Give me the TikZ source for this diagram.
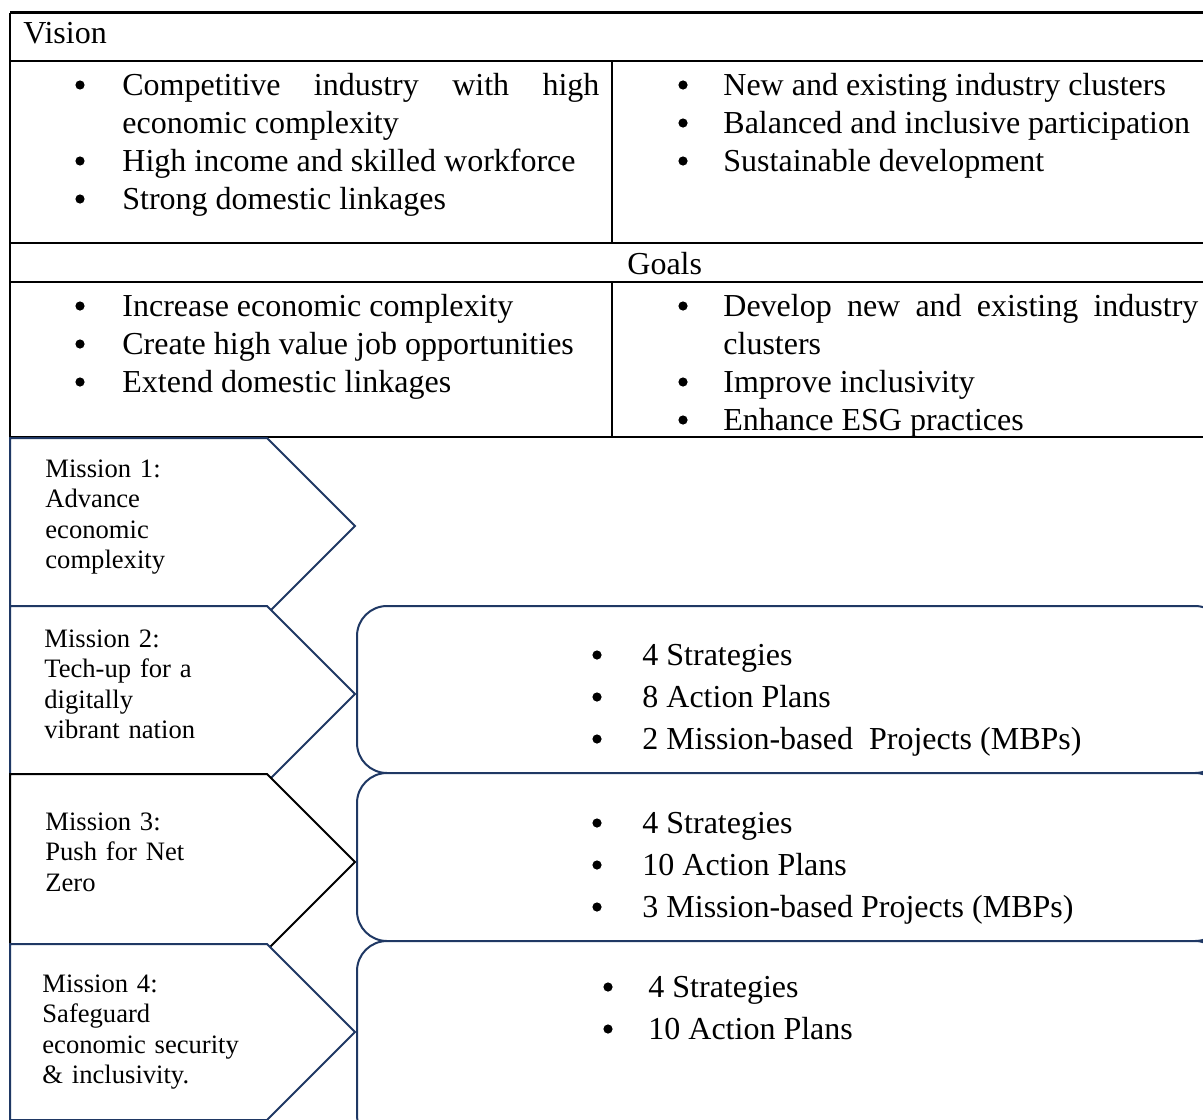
\documentclass[tikz,border=0pt]{standalone}
\usepackage{fontspec}
\setmainfont{Liberation Serif}
\usetikzlibrary{positioning}
\hyphenpenalty=10000
\exhyphenpenalty=10000

\begin{document}
\begin{tikzpicture}[x=0.5pt, y=-0.5pt,
  rule/.style={line width=1.25pt, black},
  celltext/.style={inner sep=0pt, anchor=base west, font=\fontsize{16}{19}\selectfont},
  itemtext/.style={celltext, text width=#1, align=justify},
  dot/.style={circle, fill=black, inner sep=0pt, minimum size=4.6pt, yshift=5pt},
  missiontext/.style={inner sep=0pt, anchor=base west, text width=120pt, align=left, font=\fontsize{13.3}{15.25}\selectfont},
  chevron/.style={draw=navy, line width=1pt, fill=white, line join=miter},
  resultbox/.style={draw=navy, line width=1pt, fill=white, rounded corners=15pt}]

% Colours
\definecolor{navy}{RGB}{31, 56, 100}

\useasboundingbox (0,0) rectangle (1203,1119);
\clip (0,0) rectangle (1203,1119);

% VISION / GOALS TABLE
\draw[rule] (10,12.5) -- (1215,12.5);
\draw[rule] (10,61) -- (1215,61);
\draw[rule] (10,243) -- (1215,243);
\draw[rule] (10,282) -- (1215,282);
\draw[rule] (10,437) -- (1215,437);
\draw[rule] (10,12.5) -- (10,437);
\draw[rule] (612,61) -- (612,243);
\draw[rule] (612,282) -- (612,437);

\node[celltext] (vision) at (23,43) {Vision};

% Vision, left cell
\node[dot] (vb1) at (80,95) {};
\node[itemtext=238.5pt] (v1) at (122,95) {Competitive industry with high economic complexity};
\node[dot] (vb2) at (80,171) {};
\node[celltext] (v2) at (122,171) {High income and skilled workforce};
\node[dot] (vb3) at (80,209) {};
\node[celltext] (v3) at (122,209) {Strong domestic linkages};

% Vision, right cell
\node[dot] (vb4) at (683,95) {};
\node[celltext] (v4) at (723,95) {New and existing industry clusters};
\node[dot] (vb5) at (683,133) {};
\node[celltext] (v5) at (723,133) {Balanced and inclusive participation};
\node[dot] (vb6) at (683,171) {};
\node[celltext] (v6) at (723,171) {Sustainable development};

\node[celltext] (goals) at (627,274) {Goals};

% Goals, left cell
\node[dot] (gb1) at (80,316) {};
\node[celltext] (g1) at (122,316) {Increase economic complexity};
\node[dot] (gb2) at (80,354) {};
\node[celltext] (g2) at (122,354) {Create high value job opportunities};
\node[dot] (gb3) at (80,392) {};
\node[celltext] (g3) at (122,392) {Extend domestic linkages};

% Goals, right cell
\node[dot] (gb4) at (683,316) {};
\node[itemtext=237.5pt] (g4) at (723,316) {Develop new and existing industry clusters};
\node[dot] (gb5) at (683,392) {};
\node[celltext] (g5) at (723,392) {Improve inclusivity};
\node[dot] (gb6) at (683,430) {};
\node[celltext] (g6) at (723,430) {Enhance ESG practices};

% MISSION CHEVRONS
\draw[chevron] (10,438) -- (267,438) -- (355,526) -- (267,614) -- (10,614) -- cycle;
\draw[chevron] (10,606) -- (267,606) -- (355,694) -- (267,782) -- (10,782) -- cycle;
\draw[chevron, draw=black] (10,774) -- (267,774) -- (355,862) -- (267,950) -- (10,950) -- cycle;
\draw[chevron] (10,944) -- (267,944) -- (355,1032) -- (267,1120) -- (10,1120) -- cycle;

\node[missiontext] (m1) at (45,477) {Mission 1:\\Advance\\economic\\complexity};
\node[missiontext] (m2) at (44,647) {Mission 2:\\Tech-up for a\\digitally\\vibrant nation};
\node[missiontext] (m3) at (45,830) {Mission 3:\\Push for Net\\Zero};
\node[missiontext] (m4) at (42,992) {Mission 4:\\Safeguard\\economic security\\\& inclusivity.};

% RESULT BOXES
\draw[resultbox] (357,606) rectangle (1225,773);
\draw[resultbox] (357,773) rectangle (1225,941);
\draw[resultbox] (357,941) rectangle (1225,1145);

\node[dot] (rb1) at (597,665) {};
\node[celltext] (r1) at (642,665) {4 Strategies};
\node[dot] (rb2) at (597,707) {};
\node[celltext] (r2) at (642,707) {8 Action Plans};
\node[dot] (rb3) at (597,749) {};
\node[celltext] (r3) at (642,749) {2 Mission-based~ Projects (MBPs)};

\node[dot] (rb4) at (597,833) {};
\node[celltext] (r4) at (642,833) {4 Strategies};
\node[dot] (rb5) at (597,875) {};
\node[celltext] (r5) at (642,875) {10 Action Plans};
\node[dot] (rb6) at (597,917) {};
\node[celltext] (r6) at (642,917) {3 Mission-based Projects (MBPs)};

\node[dot] (rb7) at (608,997) {};
\node[celltext] (r7) at (648,997) {4 Strategies};
\node[dot] (rb8) at (608,1039) {};
\node[celltext] (r8) at (648,1039) {10 Action Plans};

\end{tikzpicture}
\end{document}
